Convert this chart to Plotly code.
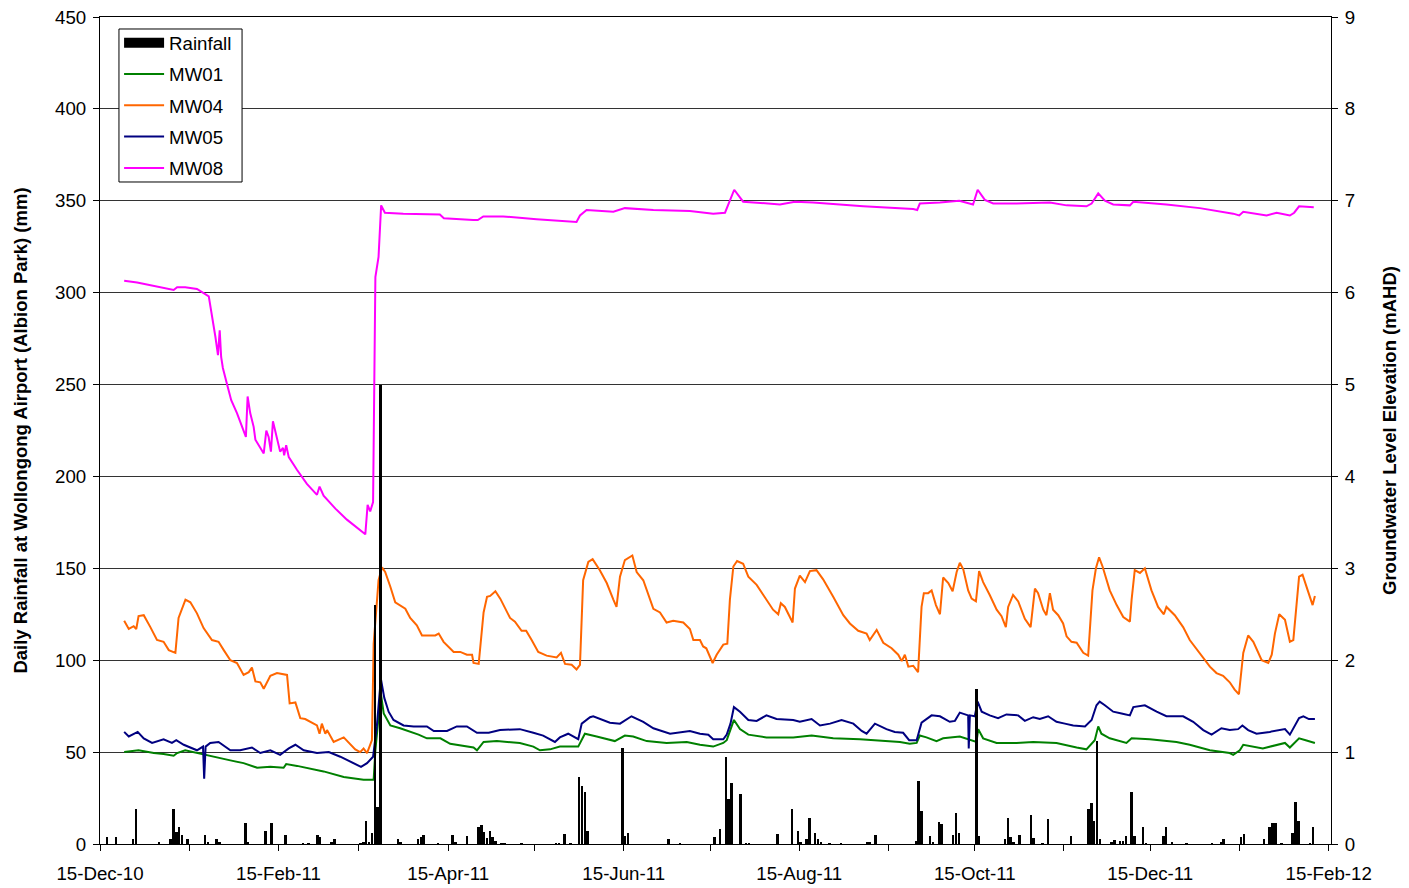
import pandas as pd
import plotly.graph_objects as go

START = pd.Timestamp("2010-12-15")

# ---------------- Daily rainfall (mm) ----------------
rain_dates = [
    "2010-12-17", "2010-12-20", "2010-12-26", "2010-12-27", "2011-01-04", "2011-01-08",
    "2011-01-09", "2011-01-10", "2011-01-11", "2011-01-12", "2011-01-14", "2011-01-20",
    "2011-01-21", "2011-01-24", "2011-01-25", "2011-02-03", "2011-02-04", "2011-02-10",
    "2011-02-12", "2011-02-17", "2011-02-23", "2011-02-25", "2011-02-28", "2011-03-01",
    "2011-03-05", "2011-03-06", "2011-03-15", "2011-03-16", "2011-03-17", "2011-03-18",
    "2011-03-19", "2011-03-20", "2011-03-21", "2011-03-22", "2011-03-28", "2011-03-29",
    "2011-04-04", "2011-04-05", "2011-04-06", "2011-04-11", "2011-04-16", "2011-04-17",
    "2011-04-21", "2011-04-25", "2011-04-26", "2011-04-27", "2011-04-28", "2011-04-29",
    "2011-04-30", "2011-05-01", "2011-05-03", "2011-05-04", "2011-05-10", "2011-05-22",
    "2011-05-23", "2011-05-25", "2011-05-27", "2011-05-30", "2011-05-31", "2011-06-01",
    "2011-06-02", "2011-06-14", "2011-06-15", "2011-06-16", "2011-06-30", "2011-07-04",
    "2011-07-16", "2011-07-18", "2011-07-20", "2011-07-21", "2011-07-22", "2011-07-25",
    "2011-07-27", "2011-07-28", "2011-08-07", "2011-08-12", "2011-08-14", "2011-08-15",
    "2011-08-17", "2011-08-18", "2011-08-20", "2011-08-21", "2011-08-22", "2011-08-25",
    "2011-08-29", "2011-09-07", "2011-09-08", "2011-09-10", "2011-09-24", "2011-09-25",
    "2011-09-26", "2011-09-29", "2011-09-30", "2011-10-02", "2011-10-03", "2011-10-07",
    "2011-10-08", "2011-10-09", "2011-10-15", "2011-10-16", "2011-10-25", "2011-10-26",
    "2011-10-27", "2011-10-28", "2011-10-30", "2011-11-03", "2011-11-04", "2011-11-07",
    "2011-11-09", "2011-11-17", "2011-11-23", "2011-11-24", "2011-11-25", "2011-11-26",
    "2011-11-27", "2011-12-01", "2011-12-02", "2011-12-04", "2011-12-05", "2011-12-06",
    "2011-12-08", "2011-12-09", "2011-12-12", "2011-12-13", "2011-12-19", "2011-12-20",
    "2011-12-22", "2011-12-27", "2012-01-05", "2012-01-08", "2012-01-09", "2012-01-15",
    "2012-01-16", "2012-01-23", "2012-01-25", "2012-01-26", "2012-01-27", "2012-01-29",
    "2012-02-02", "2012-02-03", "2012-02-04", "2012-02-08", "2012-02-09",
]
rain_mm = [
    3.6, 3.6, 2.5, 18.9, 1.0, 2.5,
    18.9, 6.7, 9.4, 5.0, 2.5, 4.9,
    1.0, 2.5, 1.0, 11.6, 1.0, 7.0,
    11.6, 4.9, 0.5, 0.5, 4.9, 3.6,
    1.0, 2.5, 0.5, 1.0, 12.7, 1.0,
    5.8, 130.0, 20.0, 250.0, 2.5, 1.0,
    2.5, 3.6, 4.9, 0.5, 4.9, 1.0,
    4.2, 9.4, 10.2, 6.7, 3.2, 7.0,
    3.6, 1.5, 0.5, 0.5, 0.5, 0.5,
    0.5, 5.4, 0.5, 36.6, 31.6, 28.5,
    7.3, 52.0, 4.2, 5.8, 2.5, 0.5,
    3.6, 7.9, 47.2, 24.3, 33.0, 27.0,
    0.5, 0.5, 5.4, 18.9, 7.3, 1.0,
    2.5, 14.0, 5.8, 2.5, 1.0, 0.5,
    0.5, 1.0, 1.0, 5.0, 1.5, 34.5,
    18.1, 4.2, 1.0, 12.2, 10.9, 4.9,
    16.7, 6.2, 84.3, 4.2, 2.5, 14.0,
    3.6, 1.0, 4.9, 15.8, 3.2, 0.5,
    13.4, 4.2, 18.9, 22.5, 12.7, 56.0,
    2.5, 1.0, 2.0, 1.5, 1.5, 4.5,
    28.1, 4.2, 9.1, 0.5, 4.5, 9.1,
    1.0, 0.5, 0.5, 1.0, 2.7, 3.6,
    5.4, 2.5, 9.4, 11.6, 11.6, 0.5,
    6.2, 23.0, 12.5, 0.5, 9.1,
]

# ---------------- Groundwater levels (mAHD); days since 15-Dec-2010 ----------------
mw01_day = [8.4, 13.4, 18.7, 22.1, 25.6, 26.8, 29.6, 33.7, 38.3, 45.3, 49.9, 54.6, 59.2, 63.8,
            64.7, 68.5, 77.7, 84.7, 91.6, 95.1, 95.7, 97.6, 98.6, 100.9, 104.3, 107.2, 110.7,
            113.6, 118.3, 121.7, 126.4, 129.8, 131.0, 133.3, 137.9, 142.6, 145.9, 150.6, 152.9,
            156.4, 159.8, 166.2, 168.5, 172.6, 178.9, 182.4, 185.3, 190.0, 196.9, 203.9, 208.5,
            213.1, 216.6, 217.8, 220.3, 222.4, 225.3, 231.6, 240.9, 247.3, 254.8, 264.1, 269.9,
            278.0, 281.4, 283.8, 284.9, 287.2, 290.7, 293.0, 298.8, 302.9, 304.6, 305.2, 306.9,
            311.6, 318.5, 324.3, 332.4, 339.4, 342.8, 345.7, 346.9, 348.0, 350.9, 356.7, 358.5,
            364.8, 374.1, 378.7, 385.7, 392.6, 393.8, 396.1, 397.3, 404.1, 408.8, 411.8, 413.5,
            416.7, 419.0, 422.2]
mw01_level = [1.00, 1.02, 0.99, 0.98, 0.96, 0.99, 1.02, 0.99, 0.96, 0.91, 0.88, 0.83, 0.84, 0.83,
              0.87, 0.85, 0.79, 0.73, 0.70, 0.70, 1.02, 1.64, 1.42, 1.29, 1.26, 1.23, 1.19,
              1.15, 1.15, 1.09, 1.07, 1.05, 1.02, 1.11, 1.12, 1.11, 1.10, 1.06, 1.02,
              1.03, 1.06, 1.06, 1.20, 1.17, 1.12, 1.18, 1.17, 1.12, 1.10, 1.11, 1.08,
              1.06, 1.10, 1.13, 1.35, 1.25, 1.19, 1.16, 1.16, 1.18, 1.15, 1.14, 1.13,
              1.11, 1.09, 1.10, 1.18, 1.16, 1.12, 1.15, 1.17, 1.13, 1.11, 1.25, 1.15,
              1.10, 1.10, 1.11, 1.10, 1.05, 1.03, 1.13, 1.28, 1.20, 1.15, 1.10, 1.15,
              1.14, 1.11, 1.08, 1.02, 0.99, 0.97, 1.02, 1.08, 1.04, 1.08, 1.10, 1.05,
              1.15, 1.13, 1.10]

mw04_day = [8.4, 10.0, 11.7, 12.6, 13.4, 15.2, 17.5, 19.8, 22.1, 23.9, 26.2, 27.3, 29.7, 31.4,
            33.7, 36.0, 38.9, 41.2, 43.0, 45.3, 47.6, 49.9, 51.7, 52.8, 54.0, 55.7, 56.9, 59.2,
            61.5, 65.0, 65.9, 67.9, 69.6, 71.3, 75.4, 76.3, 77.1, 78.3, 78.9, 81.2, 84.7, 88.7,
            90.4, 91.6, 92.8, 94.5, 95.1, 96.8, 98.0, 99.1, 100.9, 102.6, 106.1, 107.8, 110.1,
            111.9, 116.5, 117.7, 119.4, 122.9, 125.2, 127.5, 129.3, 129.8, 131.6, 133.3, 134.5,
            135.6, 137.4, 139.1, 142.5, 144.2, 146.5, 148.1, 150.0, 152.3, 155.2, 158.7, 160.2,
            161.6, 163.9, 165.6, 166.8, 167.9, 169.7, 171.2, 173.7, 176.1, 178.4, 179.5, 180.7,
            182.4, 185.0, 186.5, 188.8, 192.3, 194.6, 196.9, 199.2, 202.7, 205.0, 206.2, 208.5,
            209.6, 210.7, 212.9, 214.3, 216.6, 218.0, 218.9, 220.1, 221.4, 223.5, 225.3, 228.2,
            231.6, 233.9, 235.7, 236.6, 238.0, 240.7, 241.5, 243.2, 245.0, 246.7, 249.0, 251.3,
            254.8, 258.3, 260.6, 263.5, 266.4, 267.5, 269.9, 272.2, 275.1, 277.4, 278.6, 279.7,
            280.9, 282.6, 284.3, 285.5, 286.3, 287.8, 289.0, 290.5, 291.9, 293.0, 294.8, 296.3,
            297.7, 298.8, 300.0, 301.7, 302.9, 304.4, 305.5, 306.9, 309.2, 311.6, 313.3, 314.8,
            315.6, 317.3, 319.1, 321.4, 323.4, 324.9, 326.0, 327.8, 328.9, 330.1, 331.2, 333.0,
            334.7, 335.9, 337.6, 339.4, 341.7, 343.4, 344.9, 346.1, 347.2, 348.4, 350.9, 353.3,
            355.6, 357.9, 358.5, 359.6, 361.4, 363.1, 365.4, 367.7, 369.7, 370.6, 373.5, 376.4,
            378.7, 382.2, 385.7, 388.0, 390.3, 392.6, 394.3, 395.8, 397.3, 399.0, 400.8, 403.7,
            406.0, 407.2, 408.3, 409.8, 411.8, 413.5, 414.7, 416.7, 417.9, 419.7, 421.4, 422.2]
mw04_level = [2.43, 2.34, 2.37, 2.34, 2.48, 2.49, 2.36, 2.22, 2.20, 2.11, 2.08, 2.46, 2.66, 2.63,
              2.51, 2.35, 2.22, 2.20, 2.11, 2.00, 1.97, 1.84, 1.87, 1.92, 1.77, 1.76, 1.69, 1.83,
              1.86, 1.84, 1.53, 1.54, 1.37, 1.36, 1.29, 1.20, 1.31, 1.20, 1.24, 1.11, 1.16, 1.03,
              1.00, 1.04, 0.99, 1.13, 2.18, 2.87, 3.01, 2.96, 2.80, 2.63, 2.56, 2.46, 2.38,
              2.27, 2.27, 2.29, 2.20, 2.09, 2.09, 2.06, 2.06, 1.97, 1.96, 2.52, 2.69,
              2.70, 2.75, 2.67, 2.46, 2.42, 2.32, 2.32, 2.22, 2.09, 2.05, 2.03, 2.08,
              1.96, 1.95, 1.90, 1.95, 2.87, 3.07, 3.10, 2.98, 2.84, 2.66, 2.58, 2.91,
              3.09, 3.14, 2.96, 2.87, 2.56, 2.52, 2.41, 2.43, 2.41, 2.34, 2.22, 2.22,
              2.15, 2.13, 1.97, 2.06, 2.17, 2.18, 2.66, 3.02, 3.08, 3.05, 2.91, 2.82,
              2.66, 2.55, 2.50, 2.62, 2.58, 2.41, 2.78, 2.92, 2.85, 2.97, 2.98, 2.88,
              2.69, 2.49, 2.40, 2.32, 2.29, 2.22, 2.33, 2.19, 2.13, 2.06, 1.99, 2.06,
              1.93, 1.94, 1.87, 2.58, 2.73, 2.73, 2.76, 2.60, 2.50, 2.90, 2.84, 2.75,
              2.96, 3.06, 2.99, 2.76, 2.67, 2.64, 2.97, 2.85, 2.71, 2.55, 2.48, 2.36,
              2.58, 2.71, 2.64, 2.45, 2.36, 2.78, 2.73, 2.55, 2.49, 2.73, 2.55, 2.49,
              2.40, 2.26, 2.20, 2.19, 2.08, 2.05, 2.76, 3.00, 3.12, 3.02, 2.76, 2.60,
              2.47, 2.42, 2.66, 2.98, 2.95, 3.00, 2.76, 2.58, 2.50, 2.58, 2.49, 2.36,
              2.22, 2.08, 1.93, 1.86, 1.83, 1.76, 1.68, 1.63, 2.08, 2.27, 2.20, 2.00,
              1.97, 2.06, 2.29, 2.50, 2.44, 2.20, 2.22, 2.91, 2.93, 2.76, 2.60, 2.70]

mw05_day = [8.4, 10.0, 13.1, 15.2, 18.1, 22.1, 25.0, 26.5, 29.1, 33.7, 35.8, 36.2, 36.7, 38.3,
            41.2, 43.0, 45.3, 48.7, 52.8, 55.7, 59.2, 62.6, 65.6, 67.9, 70.8, 75.4, 79.5, 83.5,
            87.0, 90.7, 92.8, 94.9, 96.2, 97.6, 98.8, 100.3, 102.0, 105.5, 109.0, 113.6, 116.0,
            120.6, 124.0, 127.5, 131.0, 135.1, 139.0, 145.9, 150.6, 154.0, 158.1, 159.8, 162.7,
            166.2, 167.4, 170.3, 171.4, 177.2, 180.7, 184.7, 188.8, 192.3, 198.1, 205.0, 208.5,
            211.4, 213.1, 216.6, 217.8, 219.1, 220.3, 222.4, 225.3, 228.2, 231.6, 235.1, 240.9,
            243.2, 247.3, 250.2, 253.7, 257.7, 261.8, 264.7, 266.4, 269.3, 273.3, 276.2, 279.1,
            281.2, 283.8, 285.5, 289.0, 291.9, 295.3, 297.1, 298.8, 301.7, 301.9, 302.3, 304.0,
            305.0, 306.4, 309.2, 312.1, 315.0, 319.1, 321.4, 324.3, 326.6, 329.5, 332.4, 335.3,
            338.2, 342.3, 344.6, 346.3, 347.4, 349.2, 352.1, 355.0, 357.9, 359.1, 363.1, 367.2,
            370.6, 376.4, 379.9, 383.4, 386.3, 389.7, 392.6, 395.5, 397.0, 399.0, 401.9, 406.5,
            411.8, 413.5, 416.7, 418.2, 420.1, 422.2]
mw05_level = [1.22, 1.17, 1.22, 1.15, 1.10, 1.14, 1.10, 1.13, 1.08, 1.02, 1.06, 0.71, 1.06, 1.10,
              1.11, 1.07, 1.02, 1.02, 1.05, 0.99, 1.02, 0.97, 1.04, 1.08, 1.02, 0.99, 1.00, 0.95,
              0.90, 0.84, 0.88, 0.95, 1.28, 1.80, 1.59, 1.44, 1.35, 1.29, 1.28, 1.28, 1.23,
              1.23, 1.28, 1.28, 1.21, 1.21, 1.24, 1.25, 1.21, 1.18, 1.11, 1.16, 1.20,
              1.14, 1.31, 1.38, 1.39, 1.32, 1.31, 1.39, 1.33, 1.26, 1.20, 1.23, 1.20,
              1.19, 1.14, 1.14, 1.19, 1.31, 1.49, 1.44, 1.35, 1.34, 1.40, 1.36, 1.35,
              1.33, 1.36, 1.29, 1.31, 1.35, 1.31, 1.23, 1.20, 1.31, 1.25, 1.22, 1.21,
              1.13, 1.13, 1.32, 1.40, 1.39, 1.33, 1.34, 1.43, 1.40, 1.04, 1.40, 1.39,
              1.55, 1.44, 1.40, 1.37, 1.41, 1.40, 1.34, 1.38, 1.36, 1.39, 1.33, 1.31,
              1.29, 1.28, 1.35, 1.51, 1.55, 1.51, 1.44, 1.42, 1.40, 1.49, 1.51, 1.44,
              1.39, 1.39, 1.33, 1.24, 1.19, 1.26, 1.24, 1.25, 1.29, 1.24, 1.20, 1.22,
              1.25, 1.19, 1.37, 1.39, 1.36, 1.36]

mw08_day = [8.4, 12.9, 25.6, 26.8, 29.6, 33.7, 37.8, 38.9, 40.1, 41.0, 41.6, 42.1, 42.7, 44.1,
            45.6, 47.6, 49.3, 50.7, 51.3, 52.2, 53.4, 54.0, 56.9, 57.8, 58.6, 59.4, 60.1, 61.5,
            62.6, 63.6, 64.0, 64.7, 65.6, 68.5, 71.9, 75.4, 76.3, 77.7, 81.8, 85.8, 90.4, 92.2,
            93.0, 93.9, 94.9, 95.3, 95.7, 96.8, 97.4, 97.7, 99.0, 105.4, 118.1, 119.5, 129.7,
            131.3, 133.2, 140.1, 151.7, 165.6, 166.8, 169.1, 178.4, 182.4, 192.3, 205.0, 213.1,
            217.2, 220.4, 223.5, 236.3, 241.5, 247.8, 265.2, 282.6, 284.0, 284.9, 291.9, 298.6,
            303.4, 305.0, 307.5, 310.4, 318.5, 330.1, 335.9, 342.8, 344.6, 346.9, 349.2, 352.1,
            357.9, 359.1, 363.7, 370.6, 382.2, 393.8, 395.9, 397.3, 405.4, 408.9, 413.5, 415.0,
            416.7, 421.8]
mw08_level = [6.13, 6.11, 6.03, 6.06, 6.06, 6.04, 5.96, 5.77, 5.52, 5.32, 5.59, 5.30, 5.18, 5.01,
              4.83, 4.69, 4.54, 4.43, 4.87, 4.69, 4.54, 4.40, 4.25, 4.50, 4.43, 4.27, 4.60, 4.43,
              4.27, 4.31, 4.23, 4.34, 4.21, 4.07, 3.92, 3.80, 3.89, 3.79, 3.65, 3.53, 3.42, 3.37,
              3.69, 3.62, 3.72, 5.05, 6.17, 6.39, 6.83, 6.95, 6.87, 6.86, 6.85, 6.81, 6.79,
              6.79, 6.83, 6.83, 6.80, 6.77, 6.84, 6.90, 6.88, 6.92, 6.90, 6.89, 6.86,
              6.87, 7.12, 6.99, 6.96, 6.99, 6.98, 6.94, 6.91, 6.90, 6.97, 6.98, 7.00,
              6.96, 7.12, 7.01, 6.97, 6.97, 6.98, 6.95, 6.94, 6.97, 7.08, 7.00, 6.96,
              6.95, 6.99, 6.98, 6.96, 6.92, 6.86, 6.84, 6.88, 6.84, 6.87, 6.84, 6.87,
              6.94, 6.93]

# ---------------- Axis ticks ----------------
tick_dates = ["2010-12-15", "2011-01-15", "2011-02-15", "2011-03-15", "2011-04-15",
              "2011-05-15", "2011-06-15", "2011-07-15", "2011-08-15", "2011-09-15",
              "2011-10-15", "2011-11-15", "2011-12-15", "2012-01-15", "2012-02-15"]
tick_labels = ["15-Dec-10", "", "15-Feb-11", "", "15-Apr-11", "", "15-Jun-11", "",
               "15-Aug-11", "", "15-Oct-11", "", "15-Dec-11", "", "15-Feb-12"]

series = [
    ("MW01", mw01_day, mw01_level, "#008000"),
    ("MW04", mw04_day, mw04_level, "#FF6600"),
    ("MW05", mw05_day, mw05_level, "#000080"),
    ("MW08", mw08_day, mw08_level, "#FF00FF"),
]


def to_dates(days):
    return [START + pd.Timedelta(days=float(d)) for d in days]


FONT = "Liberation Sans, Arial, sans-serif"
DAY_MS = 86400000

fig = go.Figure()

# rainfall bars on the overlaying (left) axis so they draw above the lines
fig.add_trace(go.Bar(
    x=rain_dates, y=rain_mm, name="Rainfall", yaxis="y2",
    xperiod=DAY_MS, xperiodalignment="middle", width=0.9 * DAY_MS,
    marker=dict(color="black", line=dict(width=0)),
    showlegend=False,
))
# legend key for the rainfall bars (wide black block, as in the original legend)
fig.add_trace(go.Scatter(
    x=[None], y=[None], name="Rainfall", mode="lines", yaxis="y2",
    line=dict(color="black", width=12), legendgroup="g0", hoverinfo="skip",
))

for i, (name, days, levels, color) in enumerate(series):
    fig.add_trace(go.Scatter(
        x=to_dates(days), y=levels, name=name, mode="lines", yaxis="y",
        line=dict(color=color, width=2),
        legendgroup=f"g{i+1}",
    ))

fig.update_layout(
    width=1401, height=880,
    margin=dict(l=92, r=78, t=9, b=44),
    paper_bgcolor="white", plot_bgcolor="white",
    font=dict(family=FONT, size=18.7, color="black"),
    showlegend=True,
    bargap=0,
    legend=dict(
        x=0.0155, y=0.9915, xanchor="left", yanchor="top",
        bgcolor="rgba(0,0,0,0)", borderwidth=0,
        font=dict(family=FONT, size=18.7, color="black"),
        traceorder="grouped", tracegroupgap=4,
        itemwidth=40,
    ),
    # legend frame
    shapes=[dict(
        type="rect", xref="paper", yref="paper",
        x0=0.0154, x1=0.1154, y0=0.8005, y1=0.9855,
        line=dict(color="black", width=1), fillcolor="white", layer="above",
    )],
    xaxis=dict(
        type="date",
        range=[START, pd.Timestamp("2012-02-15 19:00")],
        tickvals=tick_dates, ticktext=tick_labels,
        ticks="outside", ticklen=6, tickcolor="black", ticklabelstandoff=7,
        showline=True, linecolor="black", linewidth=1, mirror=True,
        showgrid=False, zeroline=False, automargin=False,
        tickfont=dict(family=FONT, size=18.7),
    ),
    yaxis=dict(
        range=[0, 9], dtick=1, side="right",
        ticks="outside", ticklen=6, tickcolor="black", ticklabelstandoff=3,
        ticklabeloverflow="allow",
        showline=True, linecolor="black", linewidth=1,
        showgrid=True, gridcolor="#333333", gridwidth=1,
        zeroline=False, automargin=False,
        tickfont=dict(family=FONT, size=18.7),
        title=dict(text="<b>Groundwater Level Elevation (mAHD)</b>",
                   font=dict(family=FONT, size=18.5), standoff=28),
    ),
    yaxis2=dict(
        range=[0, 450], dtick=50, side="left", overlaying="y",
        ticks="outside", ticklen=6, tickcolor="black", ticklabelstandoff=3,
        ticklabeloverflow="allow",
        showline=True, linecolor="black", linewidth=1,
        showgrid=False, zeroline=False, automargin=False,
        tickfont=dict(family=FONT, size=18.7),
        title=dict(text="<b>Daily Rainfall at Wollongong Airport (Albion Park) (mm)</b>",
                   font=dict(family=FONT, size=18.5), standoff=22),
    ),
)

fig.write_html("out.html")
